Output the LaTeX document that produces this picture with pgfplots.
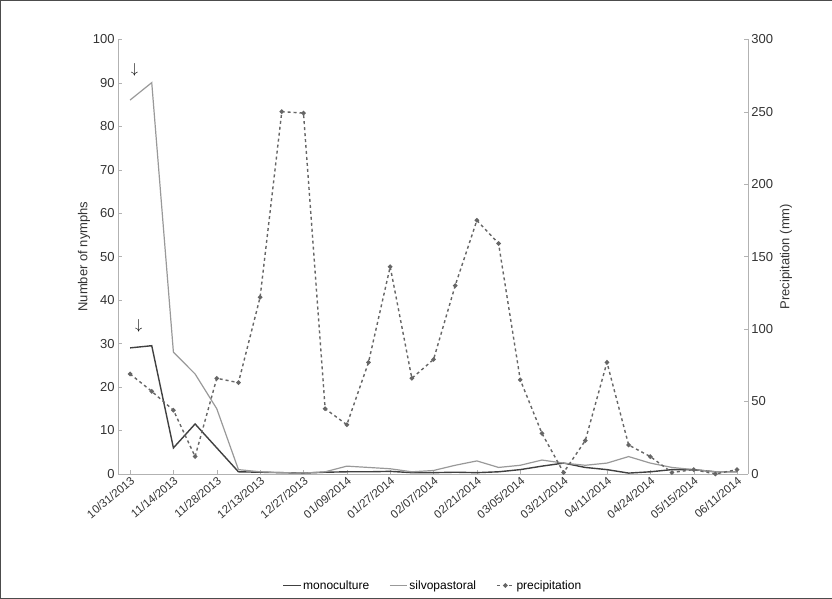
\documentclass[border=0pt]{standalone}
\usepackage{pgfplots}
\pgfplotsset{compat=1.18}
\usepackage{fontspec}
\setmainfont{Liberation Sans}
\begin{document}
\begin{tikzpicture}
\pgfplotsset{
 common/.style={width=630pt,height=435pt,scale only axis,xmin=-0.55,xmax=28.5,
  /pgf/number format/assume math mode=true,
  axis line style={gray!60},tick style={gray!60},
  tick label style={font=\fontsize{13}{15}\selectfont,text=black!80},
  label style={font=\fontsize{13}{15}\selectfont,text=black!80}},
}
\begin{axis}[common,at={(118pt,124pt)},
 ymin=0,ymax=100,ytick={0,10,...,100},axis y line*=left,axis x line*=bottom,
 ylabel={Number of nymphs},ylabel style={yshift=-4pt},
 xtick={0,2,...,28},
 xticklabels={10/31/2013,11/14/2013,11/28/2013,12/13/2013,12/27/2013,01/09/2014,01/27/2014,02/07/2014,02/21/2014,03/05/2014,03/21/2014,04/11/2014,04/24/2014,05/15/2014,06/11/2014},
 xticklabel style={rotate=40,anchor=north east,font=\fontsize{11.5}{13}\selectfont,inner sep=1pt},
 legend style={at={(0.5,-0.235)},anchor=north,draw=none,legend columns=3,font=\fontsize{12}{14}\selectfont,/tikz/every even column/.append style={column sep=18pt}},
 legend image post style={}]
\addplot[black!75,line width=1.4pt] coordinates {(0,29)(1,29.5)(2,6)(3,11.5)(4,6)(5,0.5)(6,0.4)(7,0.3)(8,0.2)(9,0.4)(10,0.5)(11,0.5)(12,0.6)(13,0.3)(14,0.3)(15,0.4)(16,0.3)(17,0.5)(18,1)(19,1.8)(20,2.5)(21,1.5)(22,1)(23,0.2)(24,0.5)(25,1)(26,1)(27,0.5)(28,0.5)};
\addlegendentry{monoculture}
\addplot[black!40,line width=1.2pt] coordinates {(0,86)(1,90)(2,28)(3,23)(4,15)(5,1)(6,0.5)(7,0.3)(8,0.2)(9,0.5)(10,1.8)(11,1.5)(12,1.2)(13,0.5)(14,0.8)(15,2)(16,3)(17,1.5)(18,2)(19,3.2)(20,2.5)(21,2)(22,2.5)(23,4)(24,2.5)(25,1.5)(26,1)(27,0.5)(28,0.5)};
\addlegendentry{silvopastoral}
\addlegendimage{black!60,line width=1.4pt,dashed,mark=*,mark size=1.5pt,mark options={solid}}
\addlegendentry{precipitation}
\node[font=\Large] at (axis cs:0.2,93) {$\downarrow$};
\node[font=\Large] at (axis cs:0.4,34) {$\downarrow$};
\end{axis}
\begin{axis}[common,at={(118pt,124pt)},
 ymin=0,ymax=300,ytick={0,50,...,300},axis y line*=right,axis x line=none,
 ylabel={Precipitation (mm)}]
\addplot[black!60,line width=1.4pt,dashed,mark=*,mark size=1.5pt,mark options={solid}] coordinates {(0,69)(1,57)(2,44)(3,12)(4,66)(5,63)(6,122)(7,250)(8,249)(9,45)(10,34)(11,77)(12,143)(13,66)(14,79)(15,130)(16,175)(17,159)(18,65)(19,28)(20,1)(21,23)(22,77)(23,20)(24,12)(25,1)(26,3)(27,0)(28,3)};
\end{axis}
\draw[black!70] (0,0) rectangle (832pt,598pt);
\end{tikzpicture}
\end{document}
